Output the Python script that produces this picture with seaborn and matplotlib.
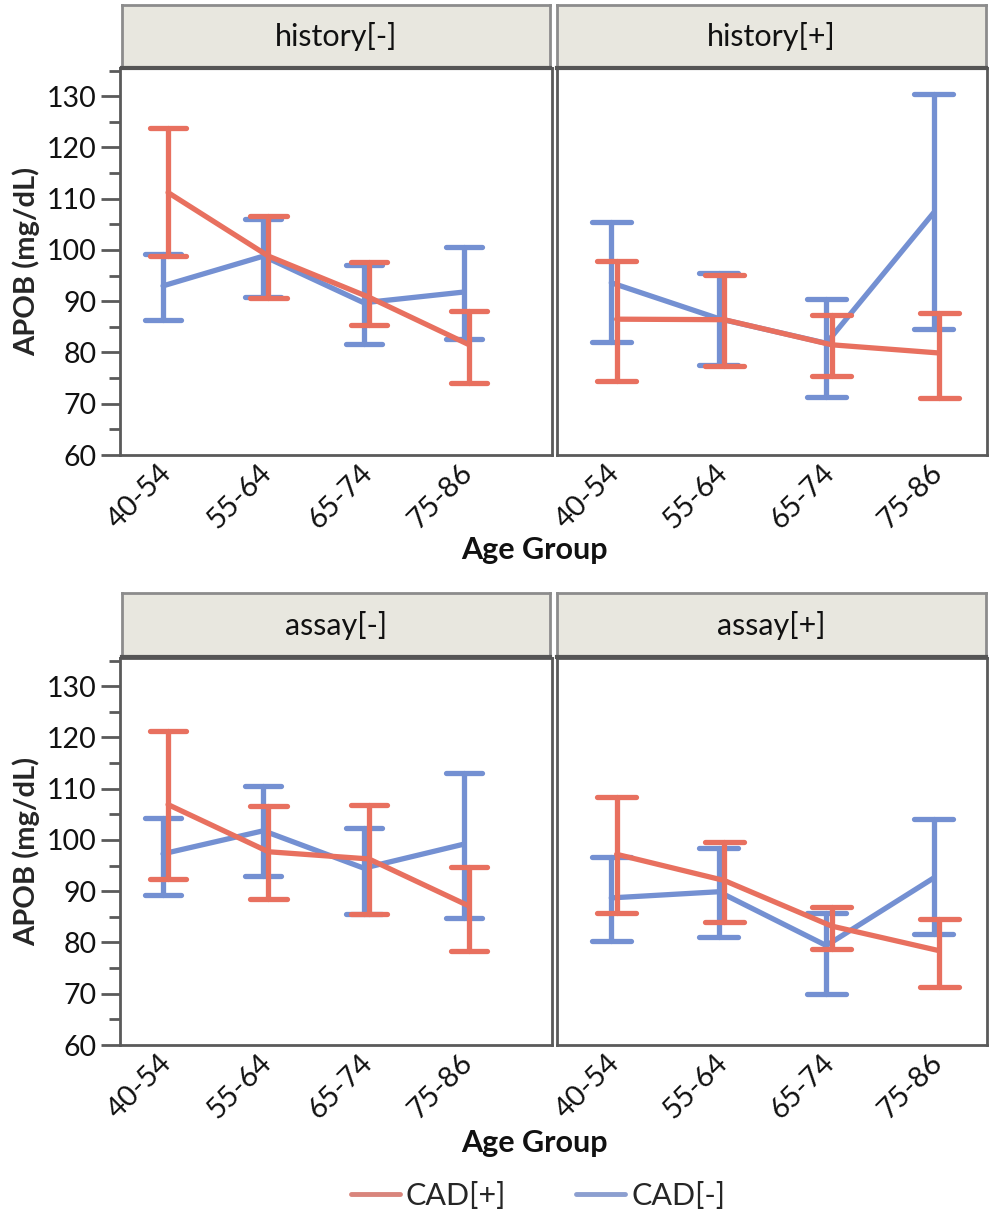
import numpy as np
import pandas as pd
import matplotlib
matplotlib.use('Agg')
import matplotlib.pyplot as plt
import matplotlib.transforms as mtrans
from matplotlib.lines import Line2D
from matplotlib.ticker import MultipleLocator
import seaborn as sns

# categories
ages = ['40-54', '55-64', '65-74', '75-86']
panels = ['history[-]', 'history[+]', 'assay[-]', 'assay[+]']

# history[-]
hn_pos_mean = [111.2, 98.8, 90.8, 81.5]
hn_pos_lo = [98.9, 90.6, 85.3, 74.1]
hn_pos_hi = [123.7, 106.6, 97.6, 88.0]
hn_neg_mean = [93.0, 98.8, 89.7, 91.8]
hn_neg_lo = [86.4, 90.8, 81.7, 82.6]
hn_neg_hi = [99.2, 106.0, 97.1, 100.6]

# history[+]
hp_pos_mean = [86.5, 86.4, 81.5, 79.9]
hp_pos_lo = [74.5, 77.3, 75.4, 71.2]
hp_pos_hi = [97.9, 95.2, 87.4, 87.8]
hp_neg_mean = [93.6, 86.6, 81.8, 107.3]
hp_neg_lo = [82.0, 77.6, 71.4, 84.6]
hp_neg_hi = [105.5, 95.5, 90.4, 130.4]

# assay[-]
an_pos_mean = [106.9, 97.7, 96.3, 87.1]
an_pos_lo = [92.3, 88.4, 85.5, 78.4]
an_pos_hi = [121.3, 106.6, 106.8, 94.7]
an_neg_mean = [97.3, 101.8, 94.5, 99.2]
an_neg_lo = [89.2, 92.9, 85.6, 84.8]
an_neg_hi = [104.2, 110.5, 102.3, 113.1]

# assay[+]
ap_pos_mean = [97.2, 92.1, 83.2, 78.4]
ap_pos_lo = [85.7, 83.9, 78.8, 71.4]
ap_pos_hi = [108.4, 99.7, 86.9, 84.5]
ap_neg_mean = [88.7, 89.9, 79.4, 92.6]
ap_neg_lo = [80.3, 81.0, 70.0, 81.7]
ap_neg_hi = [96.6, 98.4, 85.8, 104.0]

series = {
    'history[-]': [('CAD[+]', hn_pos_lo, hn_pos_mean, hn_pos_hi), ('CAD[-]', hn_neg_lo, hn_neg_mean, hn_neg_hi)],
    'history[+]': [('CAD[+]', hp_pos_lo, hp_pos_mean, hp_pos_hi), ('CAD[-]', hp_neg_lo, hp_neg_mean, hp_neg_hi)],
    'assay[-]': [('CAD[+]', an_pos_lo, an_pos_mean, an_pos_hi), ('CAD[-]', an_neg_lo, an_neg_mean, an_neg_hi)],
    'assay[+]': [('CAD[+]', ap_pos_lo, ap_pos_mean, ap_pos_hi), ('CAD[-]', ap_neg_lo, ap_neg_mean, ap_neg_hi)],
}

# long table: lo / mean / hi per group -> median = mean, min-max = interval
rows = []
for p in panels:
    for cad, lo, mean, hi in series[p]:
        for i, a in enumerate(ages):
            for v in (lo[i], mean[i], hi[i]):
                rows.append({'panel': p, 'cad': cad, 'age': a, 'apob': v})
df = pd.DataFrame(rows)

red = '#E8705F'
blue = '#7490D2'
pal = {'CAD[+]': red, 'CAD[-]': blue}

sns.set_style('white')
plt.rcParams['font.family'] = ['Lato', 'DejaVu Sans']

W, H = 997, 1219
fig = plt.figure(figsize=(W / 100, H / 100), dpi=100)


def box(x0, y0, x1, y1):
    return [x0 / W, 1 - y1 / H, (x1 - x0) / W, (y1 - y0) / H]


ax_boxes = [(120, 68, 552, 455), (557, 68, 987, 455),
            (120, 658, 552, 1045), (557, 658, 987, 1045)]
hdr_boxes = [(122, 5, 550, 68), (557, 5, 986, 68),
             (122, 593, 550, 657), (557, 593, 986, 657)]
xlims = [(-0.454, 3.85), (-0.53, 3.47), (-0.454, 3.85), (-0.53, 3.47)]

spine_c = '#5A5A5A'

for k, p in enumerate(panels):
    ax = fig.add_axes(box(*ax_boxes[k]))
    sub = df[df['panel'] == p]
    sns.pointplot(data=sub, x='age', y='apob', hue='cad', order=ages,
                  hue_order=['CAD[-]', 'CAD[+]'], palette=pal,
                  estimator='median', errorbar=('pi', 100),
                  dodge=0.05, capsize=0.36, markersize=0,
                  linewidth=3.8, err_kws={'linewidth': 3.8},
                  legend=False, ax=ax)
    ax.set_ylim(60, 135.5)
    ax.set_xlim(*xlims[k])
    ax.yaxis.set_major_locator(MultipleLocator(10))
    ax.yaxis.set_minor_locator(MultipleLocator(5))
    ax.set_xlabel('')
    for s in ax.spines.values():
        s.set_color(spine_c)
        s.set_linewidth(2.0)
    ax.tick_params(axis='x', length=0, labelsize=21, pad=3, colors='#111111')
    off = mtrans.ScaledTranslation(11 / 100, 0, fig.dpi_scale_trans)
    for lab in ax.get_xticklabels():
        lab.set_rotation(45)
        lab.set_ha('right')
        lab.set_transform(lab.get_transform() + off)
    if k % 2 == 0:
        ax.tick_params(axis='y', which='major', length=14, width=2,
                       color=spine_c, labelsize=20.5, left=True, pad=3,
                       labelcolor='#111111')
        ax.tick_params(axis='y', which='minor', length=8, width=2,
                       color=spine_c, left=True)
        ax.set_ylabel('APOB (mg/dL)', fontsize=21, fontweight='bold', labelpad=5)
    else:
        ax.set_yticklabels([])
        ax.tick_params(axis='y', which='both', length=0)
        ax.set_ylabel('')

    hx = fig.add_axes(box(*hdr_boxes[k]))
    hx.set_facecolor('#E8E7DF')
    hx.set_xticks([])
    hx.set_yticks([])
    for s in hx.spines.values():
        s.set_color('#8C8C8C')
        s.set_linewidth(2.0)
    hx.spines['bottom'].set_color('#555555')
    hx.spines['bottom'].set_linewidth(3.0)
    hx.text(0.5, 0.5, p, ha='center', va='center', fontsize=22,
            color='#111111', transform=hx.transAxes)

fig.text(534 / W, 1 - 550 / H, 'Age Group', ha='center', va='center',
         fontsize=22, fontweight='bold', color='#111111')
fig.text(534 / W, 1 - 1143 / H, 'Age Group', ha='center', va='center',
         fontsize=22, fontweight='bold', color='#111111')

handles = [Line2D([0], [0], color='#D9857C', lw=3.5),
           Line2D([0], [0], color='#8C9FD0', lw=3.5)]
fig.legend(handles, ['CAD[+]', 'CAD[-]'], loc='center',
           bbox_to_anchor=(538 / W, 1 - 1196 / H), ncol=2, frameon=False,
           fontsize=22, handlelength=1.6, handletextpad=0.2,
           columnspacing=2.3)

fig.savefig('out.png', dpi=100, facecolor='white')
